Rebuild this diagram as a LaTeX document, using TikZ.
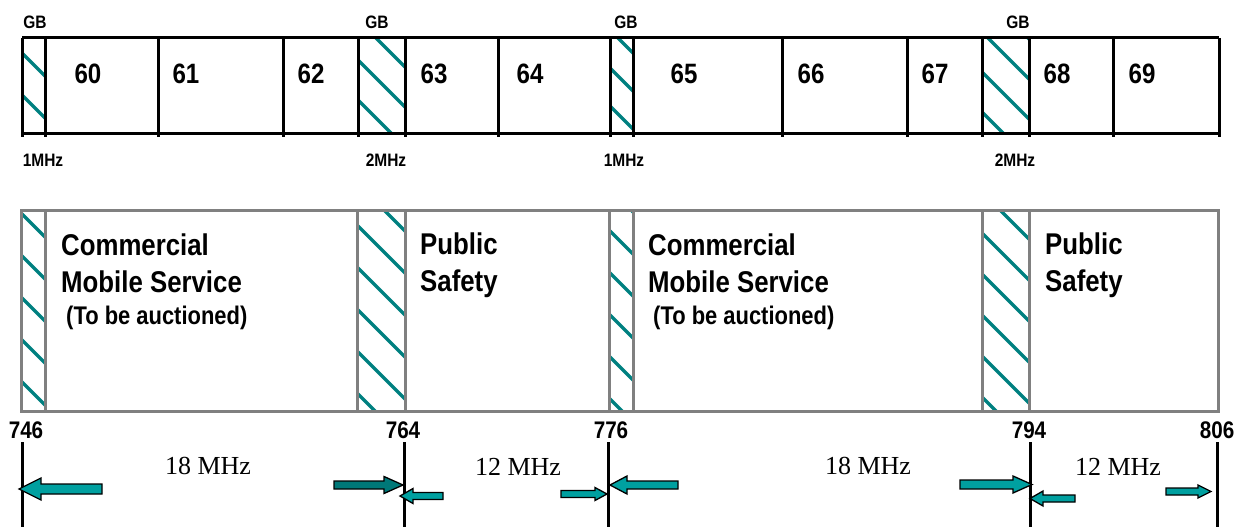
\documentclass[tikz,border=0pt]{standalone}
\usepackage{fontspec}
\setmainfont{Liberation Serif}
\newfontfamily\nar[FakeStretch=0.86]{Liberation Sans}
\definecolor{hatchc}{HTML}{008080}
\definecolor{arrl}{HTML}{00A0A0}
\definecolor{arrd}{HTML}{007878}
\definecolor{boxg}{HTML}{808080}
\tikzset{
 cellnum/.style={inner sep=0pt, anchor=base, font=\nar\bfseries\fontsize{28}{30}\selectfont},
 gblab/.style={inner sep=0pt, anchor=base, font=\nar\bfseries\fontsize{18}{20}\selectfont},
 bigtxt/.style={inner sep=0pt, anchor=base west, font=\nar\bfseries\fontsize{30}{32}\selectfont},
 smalltxt/.style={inner sep=0pt, anchor=base west, font=\nar\bfseries\fontsize{25.5}{28}\selectfont},
 freqlab/.style={inner sep=0pt, anchor=base, font=\nar\bfseries\fontsize{24}{26}\selectfont},
 bwlab/.style={inner sep=0pt, anchor=center, font=\fontsize{26}{28}\selectfont},
 hatchline/.style={draw=hatchc, line width=3.5pt},
 topline/.style={draw=black, line width=3pt},
 botline/.style={draw=boxg, line width=3pt},
 axisline/.style={draw=black, line width=3pt},
 blockarr/.style={draw=black, line width=1.3pt, line join=miter},
}
\newcommand{\hatchcell}[6]{%
 \begin{scope}
 \clip (#1,#3) rectangle (#2,#4);
 \foreach \k in {-4,...,8} {\draw[hatchline] ({#1-10},{#5+\k*#6-10}) -- ({#2+10},{#5+\k*#6+#2-#1+10});}
 \end{scope}}
\newcommand{\blockarrow}[7]{%
 \filldraw[blockarr, fill=#7] (#1,#4) -- (#2,{#4-#6}) -- (#2,{#4-#5}) -- (#3,{#4-#5}) -- (#3,{#4+#5}) -- (#2,{#4+#5}) -- (#2,{#4+#6}) -- cycle;}
\begin{document}
\begin{tikzpicture}[x=1pt,y=-1pt]
\useasboundingbox (0,0) rectangle (1239,527);
% ---------- top band ----------
\hatchcell{22}{45}{38}{133}{53}{42}
\hatchcell{358}{405}{38}{133}{60}{40}
\hatchcell{610}{633}{38}{133}{68}{38}
\hatchcell{982}{1029}{38}{133}{72}{40}
\draw[topline] (22,38) -- (1219,38);
\draw[topline] (22,133) -- (1219,133);
\foreach \x in {22,45,158,283,358,405,498,610,633,782,907,982,1029,1113,1219}
 {\draw[topline] (\x,38) -- (\x,137);}
\node[cellnum] (c60) at (88,83) {60};
\node[cellnum] (c61) at (186,83) {61};
\node[cellnum] (c62) at (311,83) {62};
\node[cellnum] (c63) at (434,83) {63};
\node[cellnum] (c64) at (530,83) {64};
\node[cellnum] (c65) at (684,83) {65};
\node[cellnum] (c66) at (811,83) {66};
\node[cellnum] (c67) at (935,83) {67};
\node[cellnum] (c68) at (1057,83) {68};
\node[cellnum] (c69) at (1142,83) {69};
\node[gblab] (gb1) at (35,29) {GB};
\node[gblab] (gb2) at (377,29) {GB};
\node[gblab] (gb3) at (626,29) {GB};
\node[gblab] (gb4) at (1018,29) {GB};
\node[gblab] (w1) at (43,166) {1MHz};
\node[gblab] (w2) at (386,166) {2MHz};
\node[gblab] (w3) at (624,166) {1MHz};
\node[gblab] (w4) at (1015,166) {2MHz};
% ---------- bottom band ----------
\hatchcell{21}{45}{210}{411}{213}{42}
\hatchcell{357}{405}{210}{411}{225}{42}
\hatchcell{609}{633}{210}{411}{230}{42}
\hatchcell{982}{1029}{210}{411}{233}{41}
\draw[botline] (21,210) rectangle (1218,411);
\foreach \x in {45,357,405,609,633,982,1029}
 {\draw[botline] (\x,210) -- (\x,411);}
\node[bigtxt] (cm1a) at (61,255) {Commercial};
\node[bigtxt] (cm1b) at (61,292) {Mobile Service};
\node[smalltxt] (cm1c) at (66,324) {(To be auctioned)};
\node[bigtxt] (ps1a) at (420,254) {Public};
\node[bigtxt] (ps1b) at (420,291) {Safety};
\node[bigtxt] (cm2a) at (648,255) {Commercial};
\node[bigtxt] (cm2b) at (648,292) {Mobile Service};
\node[smalltxt] (cm2c) at (653,324) {(To be auctioned)};
\node[bigtxt] (ps2a) at (1045,254) {Public};
\node[bigtxt] (ps2b) at (1045,291) {Safety};
% ---------- frequency axis ----------
\node[freqlab] (f746) at (26,438) {746};
\node[freqlab] (f764) at (403,438) {764};
\node[freqlab] (f776) at (611,438) {776};
\node[freqlab] (f794) at (1029,438) {794};
\node[freqlab] (f806) at (1217,438) {806};
\foreach \x in {22,404,608,1030,1217}
 {\draw[axisline] (\x,442) -- (\x,527);}
\node[bwlab] (bw1) at (208,466) {18 MHz};
\node[bwlab] (bw2) at (518,467) {12 MHz};
\node[bwlab] (bw3) at (868,466) {18 MHz};
\node[bwlab] (bw4) at (1118,467) {12 MHz};
\blockarrow{19}{41}{102}{489}{5}{11}{arrl}
\blockarrow{403}{384}{334}{485}{4}{8.5}{arrd}
\blockarrow{400}{413}{443}{496}{3.5}{7.5}{arrl}
\blockarrow{607}{595}{561}{494}{3.5}{6.5}{arrl}
\blockarrow{610}{627}{678}{485}{4}{9}{arrl}
\blockarrow{1032}{1013}{960}{484.5}{4.5}{8.5}{arrl}
\blockarrow{1030}{1043}{1075}{498.5}{3.5}{7.5}{arrl}
\blockarrow{1211}{1198}{1166}{491.5}{3.5}{6.5}{arrl}
\end{tikzpicture}
\end{document}
